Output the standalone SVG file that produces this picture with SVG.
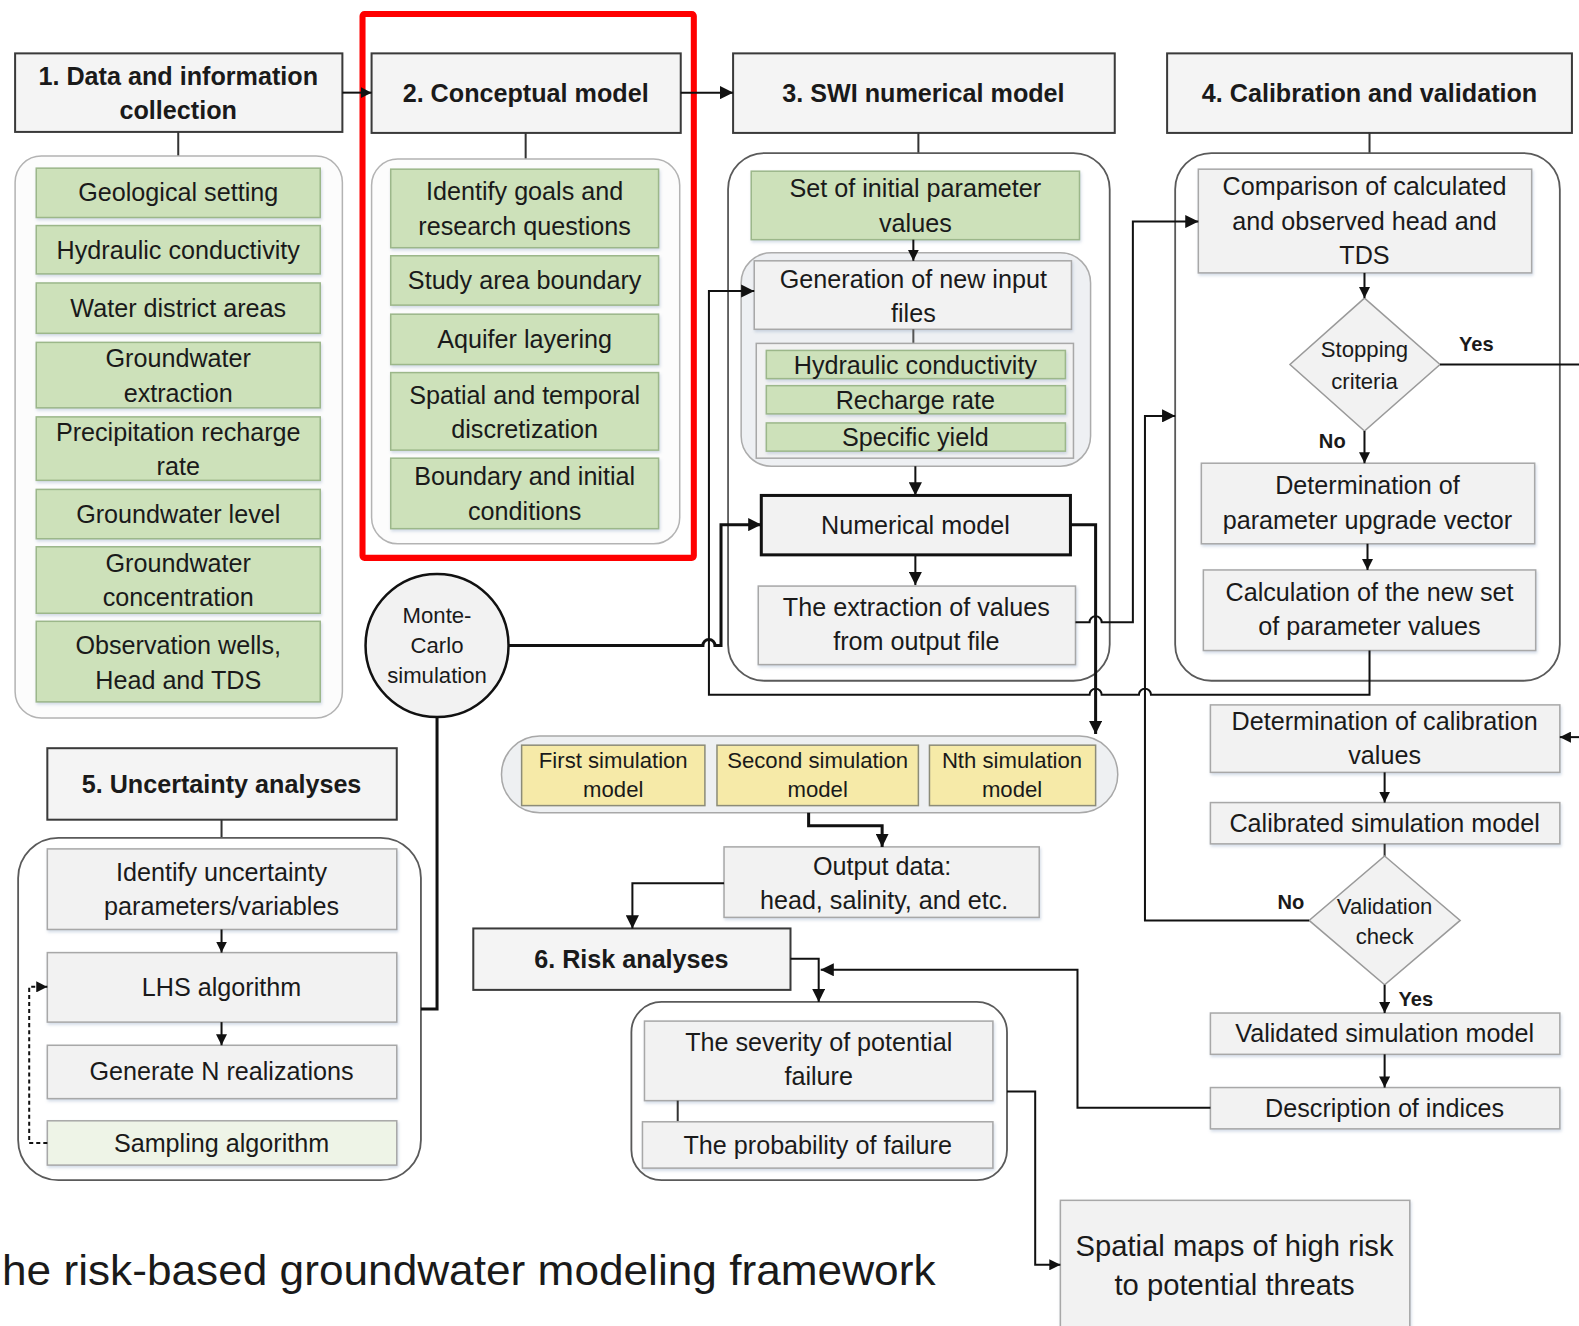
<svg xmlns="http://www.w3.org/2000/svg" width="1579" height="1326" viewBox="0 0 1579 1326">
  <defs>
    <marker id="ah" viewBox="0 0 10 10" refX="10" refY="5" markerWidth="13" markerHeight="13" markerUnits="userSpaceOnUse" orient="auto">
      <path d="M0,0 L10,5 L0,10 z" fill="#111"/>
    </marker>
    <marker id="ahs" viewBox="0 0 10 10" refX="10" refY="5" markerWidth="11" markerHeight="11" markerUnits="userSpaceOnUse" orient="auto">
      <path d="M0,0 L10,5 L0,10 z" fill="#111"/>
    </marker>
    <filter id="sh" x="-5%" y="-10%" width="110%" height="130%">
      <feDropShadow dx="1" dy="2" stdDeviation="1.5" flood-color="#9fb2cc" flood-opacity="0.45"/>
    </filter>
  </defs>
  <style>
    text { font-family: "Liberation Sans", Arial, sans-serif; fill: #1a1a1a; text-anchor: middle; dominant-baseline: central; }
    .t { font-size: 25px; }
    .ts { font-size: 22px; }
    .th { font-size: 25px; font-weight: bold; }
    .tl { font-size: 20px; font-weight: bold; }
    .hdr { fill: #f4f4f4; stroke: #3a3a3a; stroke-width: 2; }
    .ctn { fill: #fcfcfc; stroke: #b3b3b3; stroke-width: 1.5; }
    .ctd { fill: #ffffff; stroke: #5a5a5a; stroke-width: 1.8; }
    .g { fill: #cde1ba; stroke: #9cb78a; stroke-width: 1.5; filter: url(#sh); }
    .b { fill: #f2f2f2; stroke: #a8a8a8; stroke-width: 1.5; filter: url(#sh); }
    .y { fill: #f6eaa8; stroke: #8c8c78; stroke-width: 1.5; }
    .dm { fill: #f2f2f2; stroke: #9a9a9a; stroke-width: 1.5; }
    .ln { fill: none; stroke: #111; stroke-width: 2; }
    .lb { fill: none; stroke: #111; stroke-width: 3; }
    .tie { fill: none; stroke: #333; stroke-width: 2; }
  </style>

  <rect width="1579" height="1326" fill="#ffffff"/>

  <g transform="scale(1.007)">

    <!-- highlight frame round stage 2 -->
    <rect x="360" y="14" width="329" height="540" fill="none" stroke="#ff0000" stroke-width="6" rx="2"/>

    <!-- stage 1: data collection -->
    <g id="stage1">
      <rect class="hdr" x="15" y="53" width="325" height="78"/>
      <text class="th" x="177" y="75">1. Data and information</text>
      <text class="th" x="177" y="109">collection</text>
      <line class="tie" x1="177" y1="131" x2="177" y2="155"/>
      <rect class="ctn" x="15" y="155" width="325" height="558" rx="26"/>
      <rect class="g" x="36" y="167" width="282" height="49"/>
      <text class="t" x="177" y="191">Geological setting</text>
      <rect class="g" x="36" y="224" width="282" height="48"/>
      <text class="t" x="177" y="248">Hydraulic conductivity</text>
      <rect class="g" x="36" y="281" width="282" height="50"/>
      <text class="t" x="177" y="306">Water district areas</text>
      <rect class="g" x="36" y="340" width="282" height="65"/>
      <text class="t" x="177" y="356">Groundwater</text>
      <text class="t" x="177" y="390">extraction</text>
      <rect class="g" x="36" y="414" width="282" height="63"/>
      <text class="t" x="177" y="429">Precipitation recharge</text>
      <text class="t" x="177" y="463">rate</text>
      <rect class="g" x="36" y="486" width="282" height="49"/>
      <text class="t" x="177" y="510">Groundwater level</text>
      <rect class="g" x="36" y="543" width="282" height="66"/>
      <text class="t" x="177" y="559">Groundwater</text>
      <text class="t" x="177" y="593">concentration</text>
      <rect class="g" x="36" y="617" width="282" height="80"/>
      <text class="t" x="177" y="641">Observation wells,</text>
      <text class="t" x="177" y="675">Head and TDS</text>
    </g>

    <!-- stage 2: conceptual model -->
    <g id="stage2">
      <rect class="hdr" x="369" y="53" width="307" height="79"/>
      <text class="th" x="522" y="92">2. Conceptual model</text>
      <line class="tie" x1="522" y1="132" x2="522" y2="158"/>
      <rect class="ctn" x="369" y="158" width="306" height="382" rx="26"/>
      <rect class="g" x="388" y="168" width="266" height="78"/>
      <text class="t" x="521" y="190">Identify goals and</text>
      <text class="t" x="521" y="224">research questions</text>
      <rect class="g" x="388" y="254" width="266" height="49"/>
      <text class="t" x="521" y="278">Study area boundary</text>
      <rect class="g" x="388" y="312" width="266" height="50"/>
      <text class="t" x="521" y="337">Aquifer layering</text>
      <rect class="g" x="388" y="370" width="266" height="77"/>
      <text class="t" x="521" y="392">Spatial and temporal</text>
      <text class="t" x="521" y="426">discretization</text>
      <rect class="g" x="388" y="455" width="266" height="70"/>
      <text class="t" x="521" y="473">Boundary and initial</text>
      <text class="t" x="521" y="507">conditions</text>
    </g>

    <!-- stage 3: SWI numerical model -->
    <g id="stage3">
      <rect class="hdr" x="728" y="53" width="379" height="79"/>
      <text class="th" x="917" y="92">3. SWI numerical model</text>
      <line class="tie" x1="912" y1="132" x2="912" y2="152"/>
      <rect class="ctd" x="723" y="152" width="379" height="524" rx="36"/>
      <rect class="g" x="746" y="170" width="326" height="68"/>
      <text class="t" x="909" y="187">Set of initial parameter</text>
      <text class="t" x="909" y="221">values</text>
      <rect x="736" y="251" width="347" height="212" rx="30" fill="#eef0f3" stroke="#acacac" stroke-width="1.5"/>
      <rect class="b" x="749" y="259" width="315" height="68"/>
      <text class="t" x="907" y="277">Generation of new input</text>
      <text class="t" x="907" y="311">files</text>
      <line x1="907" y1="327" x2="907" y2="341" stroke="#555" stroke-width="2"/>
      <rect x="751" y="341" width="315" height="114" fill="#f2f2f2" stroke="#a8a8a8" stroke-width="1.5"/>
      <rect class="g" x="761" y="348" width="297" height="28"/>
      <text class="t" x="909" y="362">Hydraulic conductivity</text>
      <rect class="g" x="761" y="383" width="297" height="28"/>
      <text class="t" x="909" y="397">Recharge rate</text>
      <rect class="g" x="761" y="420" width="297" height="28"/>
      <text class="t" x="909" y="434">Specific yield</text>
      <rect x="756" y="492" width="307" height="59" fill="#f2f2f2" stroke="#111" stroke-width="3"/>
      <text class="t" x="909" y="521">Numerical model</text>
      <rect class="b" x="753" y="582" width="315" height="78"/>
      <text class="t" x="910" y="603">The extraction of values</text>
      <text class="t" x="910" y="637">from output file</text>
    </g>

    <!-- stage 4: calibration and validation -->
    <g id="stage4">
      <rect class="hdr" x="1159" y="53" width="402" height="79"/>
      <text class="th" x="1360" y="92">4. Calibration and validation</text>
      <line class="tie" x1="1360" y1="132" x2="1360" y2="152"/>
      <rect class="ctd" x="1167" y="152" width="382" height="524" rx="36"/>
      <rect class="b" x="1190" y="168" width="331" height="103"/>
      <text class="t" x="1355" y="185">Comparison of calculated</text>
      <text class="t" x="1355" y="219">and observed head and</text>
      <text class="t" x="1355" y="253">TDS</text>
      <polygon class="dm" points="1355,296 1430,362 1355,428 1281,362"/>
      <text class="ts" x="1355" y="347">Stopping</text>
      <text class="ts" x="1355" y="379">criteria</text>
      <text class="tl" x="1466" y="342">Yes</text>
      <text class="tl" x="1323" y="438">No</text>
      <rect class="b" x="1193" y="460" width="331" height="80"/>
      <text class="t" x="1358" y="482">Determination of</text>
      <text class="t" x="1358" y="516">parameter upgrade vector</text>
      <rect class="b" x="1195" y="566" width="330" height="80"/>
      <text class="t" x="1360" y="588">Calculation of the new set</text>
      <text class="t" x="1360" y="622">of parameter values</text>
    </g>

    <!-- Monte-Carlo simulation -->
    <g id="montecarlo">
      <circle cx="434" cy="641" r="71" fill="#f2f2f2" stroke="#111" stroke-width="2.5"/>
      <text class="ts" x="434" y="611">Monte-</text>
      <text class="ts" x="434" y="641">Carlo</text>
      <text class="ts" x="434" y="671">simulation</text>
    </g>

    <!-- simulation model ensemble -->
    <g id="ensemble">
      <rect x="498" y="731" width="612" height="76" rx="38" fill="#eef0f2" stroke="#a8a8a8" stroke-width="1.5"/>
      <rect class="y" x="518" y="740" width="182" height="60"/>
      <text class="ts" x="609" y="755">First simulation</text>
      <text class="ts" x="609" y="784">model</text>
      <rect class="y" x="712" y="740" width="200" height="60"/>
      <text class="ts" x="812" y="755">Second simulation</text>
      <text class="ts" x="812" y="784">model</text>
      <rect class="y" x="923" y="740" width="165" height="60"/>
      <text class="ts" x="1005" y="755">Nth simulation</text>
      <text class="ts" x="1005" y="784">model</text>
    </g>

    <g id="output">
      <rect class="b" x="719" y="841" width="313" height="70"/>
      <text class="t" x="876" y="860">Output data:</text>
      <text class="t" x="878" y="894">head, salinity, and etc.</text>
    </g>

    <!-- stage 5: uncertainty analyses -->
    <g id="stage5">
      <rect class="hdr" x="47" y="743" width="347" height="71"/>
      <text class="th" x="220" y="779">5. Uncertainty analyses</text>
      <line class="tie" x1="220" y1="814" x2="220" y2="832"/>
      <rect class="ctd" x="18" y="832" width="400" height="340" rx="40"/>
      <rect class="b" x="47" y="843" width="347" height="80"/>
      <text class="t" x="220" y="866">Identify uncertainty</text>
      <text class="t" x="220" y="900">parameters/variables</text>
      <rect class="b" x="47" y="946" width="347" height="69"/>
      <text class="t" x="220" y="980">LHS algorithm</text>
      <rect class="b" x="47" y="1038" width="347" height="53"/>
      <text class="t" x="220" y="1064">Generate N realizations</text>
      <rect x="47" y="1113" width="347" height="44" fill="#eef4e7" stroke="#a8a8a8" stroke-width="1.5" filter="url(#sh)"/>
      <text class="t" x="220" y="1135">Sampling algorithm</text>
    </g>

    <!-- stage 6: risk analyses -->
    <g id="stage6">
      <rect class="hdr" x="470" y="922" width="315" height="61"/>
      <text class="th" x="627" y="952">6. Risk analyses</text>
      <rect class="ctd" x="627" y="995" width="373" height="177" rx="30"/>
      <rect class="b" x="640" y="1014" width="346" height="79"/>
      <text class="t" x="813" y="1035">The severity of potential</text>
      <text class="t" x="813" y="1069">failure</text>
      <line x1="673" y1="1093" x2="673" y2="1114" stroke="#333" stroke-width="2"/>
      <rect class="b" x="638" y="1114" width="348" height="46"/>
      <text class="t" x="812" y="1137">The probability of failure</text>
    </g>

    <!-- calibration / validation chain -->
    <g id="validation">
      <rect class="b" x="1202" y="700" width="347" height="67"/>
      <text class="t" x="1375" y="716">Determination of calibration</text>
      <text class="t" x="1375" y="750">values</text>
      <rect class="b" x="1202" y="797" width="347" height="41"/>
      <text class="t" x="1375" y="817">Calibrated simulation model</text>
      <line x1="1375" y1="838" x2="1375" y2="851" stroke="#333" stroke-width="2"/>
      <polygon class="dm" points="1375,850 1450,914 1375,978 1300,914"/>
      <text class="ts" x="1375" y="900">Validation</text>
      <text class="ts" x="1375" y="930">check</text>
      <text class="tl" x="1282" y="896">No</text>
      <text class="tl" x="1406" y="992">Yes</text>
      <rect class="b" x="1202" y="1006" width="347" height="41"/>
      <text class="t" x="1375" y="1026">Validated simulation model</text>
      <rect class="b" x="1202" y="1080" width="347" height="41"/>
      <text class="t" x="1375" y="1100">Description of indices</text>
    </g>

    <g id="maps">
      <rect class="b" x="1053" y="1192" width="347" height="140"/>
      <text class="t" x="1226" y="1237" style="font-size:29px">Spatial maps of high risk</text>
      <text class="t" x="1226" y="1276" style="font-size:29px">to potential threats</text>
    </g>

    <!-- connectors -->
    <g id="connectors">
      <path class="ln" d="M340,92 H369" marker-end="url(#ahs)"/>
      <path class="ln" d="M676,92 H728" marker-end="url(#ah)"/>
      <path class="ln" d="M907,238 V259" marker-end="url(#ahs)"/>
      <path class="ln" d="M909,463 V492" marker-end="url(#ah)"/>
      <path class="ln" d="M909,551 V581" marker-end="url(#ah)"/>
      <!-- Monte-Carlo feed into the numerical model, hopping the loop-back line -->
      <path class="lb" d="M505,641 H698 a6,6 0 0 1 12 0 H716 V521 H756" marker-end="url(#ah)"/>
      <!-- loop back from the new parameter set -->
      <path class="ln" d="M1360,646 V690 H1143 a6,6 0 0 0 -12 0 H1094 a6,6 0 0 0 -12 0 H704 V289 H749" marker-end="url(#ah)"/>
      <!-- extracted values to comparison -->
      <path class="ln" d="M1068,618 H1082 a6,6 0 0 1 12 0 H1125 V220 H1190" marker-end="url(#ah)"/>
      <!-- numerical model to the ensemble -->
      <path class="lb" d="M1063,521 H1088 V729" marker-end="url(#ah)"/>
      <path class="ln" d="M1355,271 V296" marker-end="url(#ahs)"/>
      <path class="ln" d="M1355,428 V460" marker-end="url(#ahs)"/>
      <path class="ln" d="M1358,540 V566" marker-end="url(#ahs)"/>
      <path class="ln" d="M1430,362 H1572"/>
      <path class="ln" d="M1572,732 H1549" marker-end="url(#ahs)"/>
      <path class="ln" d="M1375,767 V797" marker-end="url(#ahs)"/>
      <path class="ln" d="M1300,914 H1137 V413 H1167" marker-end="url(#ah)"/>
      <path class="ln" d="M1375,978 V1006" marker-end="url(#ahs)"/>
      <path class="ln" d="M1375,1047 V1080" marker-end="url(#ahs)"/>
      <path class="lb" d="M803,807 V820 H876 V841" marker-end="url(#ah)"/>
      <path class="ln" d="M719,877 H628 V922" marker-end="url(#ah)"/>
      <path class="ln" d="M785,952 H813 V995" marker-end="url(#ah)"/>
      <path class="ln" d="M1202,1100 H1070 V963 H815" marker-end="url(#ah)"/>
      <path class="ln" d="M1000,1084 H1028 V1256 H1053" marker-end="url(#ahs)"/>
      <path class="ln" d="M220,923 V946" marker-end="url(#ahs)"/>
      <path class="ln" d="M220,1015 V1038" marker-end="url(#ahs)"/>
      <path class="lb" d="M434,712 V1002 H418"/>
      <path class="ln" d="M47,1135 H29 V980 H47" stroke-dasharray="4,3" marker-end="url(#ahs)"/>
    </g>

    <text x="2" y="1262" style="font-size:42px; text-anchor:start" textLength="927" lengthAdjust="spacingAndGlyphs">he risk-based groundwater modeling framework</text>
  </g>
</svg>
